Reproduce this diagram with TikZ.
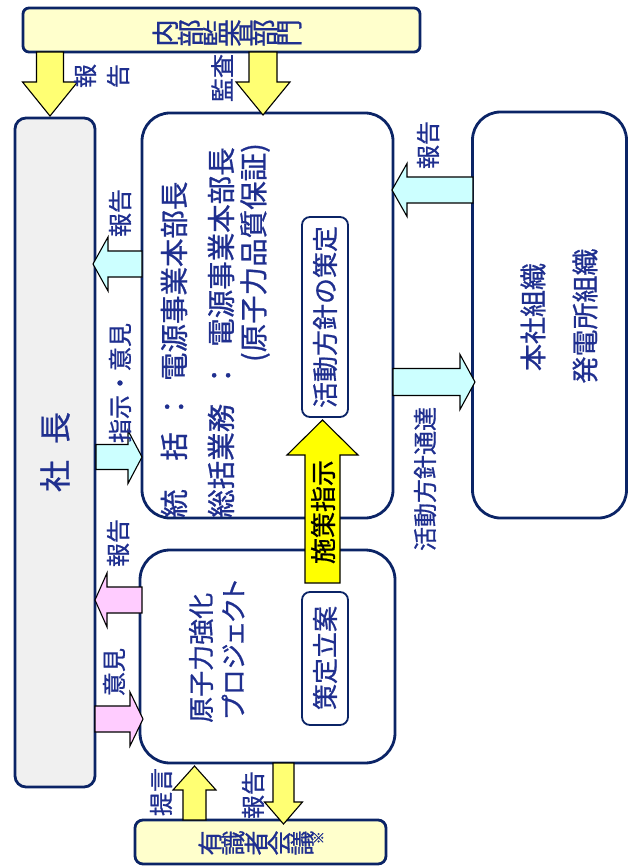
\documentclass[tikz,border=0pt]{standalone}
\usepackage{fontspec}
\setmainfont{Noto Sans CJK JP}[FakeBold=0.8]
\newfontfamily\jpprop{Noto Sans CJK JP}[RawFeature=+palt,FakeBold=0.8]
\usepackage{graphicx}
\definecolor{navy}{HTML}{0B2466}
\definecolor{txt}{HTML}{1F2F8F}
\definecolor{lyel}{HTML}{FFFFCC}
\definecolor{ayel}{HTML}{FFFF73}
\definecolor{byel}{HTML}{FFFF00}
\definecolor{acyan}{HTML}{CCFFFF}
\definecolor{apink}{HTML}{FFCCFF}
\definecolor{pgray}{HTML}{F0F0F0}
\newcommand{\tgc}[1]{\rotatebox{90}{#1}}
\newcommand{\fs}[1]{\fontsize{#1}{#1}\selectfont}
\newcommand{\harr}[7]{\filldraw[#1] (#2,#5-#6) -- (#3,#5-#6) -- (#3,#5-#7) -- (#4,#5) -- (#3,#5+#7) -- (#3,#5+#6) -- (#2,#5+#6) -- cycle;}
\newcommand{\varr}[7]{\filldraw[#1] (#2-#6,#3) -- (#2-#6,#4) -- (#2-#7,#4) -- (#2,#5) -- (#2+#7,#4) -- (#2+#6,#4) -- (#2+#6,#3) -- cycle;}
\begin{document}
\begin{tikzpicture}[x=1pt,y=-1pt,
  box/.style={draw=navy, line width=2.8pt, inner sep=0pt, outer sep=0pt},
  sbox/.style={draw=navy, line width=1.8pt, fill=white, rounded corners=8pt, inner sep=0pt},
  blk/.style={draw=black, line width=1.1pt, line join=miter},
  lab/.style={text=txt, rotate=90, inner sep=0pt, font=\fs{24}},
  big/.style={text=txt, rotate=90, inner sep=0pt, font=\fs{27}},
  tate/.style={text=txt, inner sep=0pt, font=\fs{27}}]
\useasboundingbox (0,0) rectangle (629,866);
% boxes
\node[box, fill=lyel, rounded corners=6pt, minimum width=397pt, minimum height=44pt] (audit) at (221.5,30) {};
\node[box, fill=pgray, rounded corners=11pt, minimum width=80pt, minimum height=669pt] (pres) at (55,452.5) {};
\node[box, fill=white, rounded corners=28pt, minimum width=251pt, minimum height=405pt] (hq) at (267.5,315.5) {};
\node[box, fill=white, rounded corners=28pt, minimum width=154pt, minimum height=406pt] (org) at (549.5,315) {};
\node[box, fill=white, rounded corners=30pt, minimum width=255pt, minimum height=213pt] (proj) at (267.5,656.5) {};
\node[box, fill=lyel, rounded corners=8pt, minimum width=251pt, minimum height=44pt] (panel) at (260.5,842) {};
\node[sbox, minimum width=46pt, minimum height=200pt] (sub1) at (325,317) {};
\node[sbox, minimum width=46pt, minimum height=133pt] (sub2) at (325,658.5) {};
% block arrows
\varr{blk, fill=ayel}{50}{52}{82}{116}{13.5}{27.5}
\varr{blk, fill=ayel}{263}{52}{82}{115}{14}{27}
\harr{blk, fill=acyan}{473}{407}{392}{190}{13}{26.5}
\harr{blk, fill=acyan}{393}{460}{475}{382}{13.5}{27.5}
\harr{blk, fill=acyan}{142}{108}{93}{264}{13}{27}
\harr{blk, fill=acyan}{96}{128}{142}{457}{12.5}{26.5}
\harr{blk, fill=apink}{142}{107}{95}{600}{13}{27}
\harr{blk, fill=apink}{95}{130}{143}{719}{13}{27}
\varr{blk, fill=byel}{322.5}{583}{455}{420}{17.5}{35.5}
\varr{blk, fill=ayel}{194.5}{820}{790}{766}{11.5}{21.5}
\varr{blk, fill=ayel}{283.5}{763}{802}{824}{10.5}{19}
% box texts
\node[tate, font=\fs{27.5}] (tAudit) at (227,33) {\tgc{内}\tgc{部}\tgc{監}\tgc{査}\tgc{部}\tgc{門}};
\node[big, font=\fs{32}] (tPres) at (55,452) {社\hspace{0.5em}長};
\node[big, font=\fs{28.5}, anchor=west] (tHq1) at (174,518) {統\hspace{1em}括\hspace{0.4em}：\hspace{0.4em}電源事業本部長};
\node[big, font=\fs{28.5}, anchor=west] (tHq2) at (221,518) {総括業務\hspace{0.5em}：\hspace{0.5em}電源事業本部長};
\node[big, font=\fs{28.5}, anchor=east] (tHq3) at (255,143) {(原子力品質保証)};
\node[big, font=\fs{26}] (tSub1) at (325,317) {活動方針の策定};
\node[big, font=\fs{27}] (tOrg1) at (533,317) {本社組織};
\node[big, font=\fs{27}] (tOrg2) at (585,316) {発電所組織};
\node[big, font=\fs{26}, anchor=west] (tProj1) at (201,723) {原子力強化};
\node[big, font=\fs{26}\jpprop, anchor=west] (tProj2) at (233,719) {プロジェクト};
\node[big, font=\fs{26}] (tSub2) at (325,658) {策定立案};
\node[big, font=\fs{26}, text=black] (tShisaku) at (323,512) {施策指示};
\node[tate, font=\fs{25}] (tPanel) at (261,843) {\tgc{有}\tgc{識}\tgc{者}\tgc{会}\tgc{議}\raisebox{0.45em}{\fs{13}\tgc{※}}};
% labels
\node[lab] (lKansa) at (222,78) {監査};
\node[lab] (lHo1) at (85,76) {報};
\node[lab] (lKoku1) at (118,76) {告};
\node[lab] (lRep2) at (428,145) {報告};
\node[lab] (lRep3) at (120,213) {報告};
\node[lab] (lShiji) at (120,383) {指示・意見};
\node[lab] (lTsuta) at (425,479) {活動方針通達};
\node[lab] (lRep4) at (118,543) {報告};
\node[lab] (lIken) at (114,672) {意見};
\node[lab] (lTeigen) at (161,792) {提言};
\node[lab] (lRep5) at (253,795) {報告};
\end{tikzpicture}
\end{document}
